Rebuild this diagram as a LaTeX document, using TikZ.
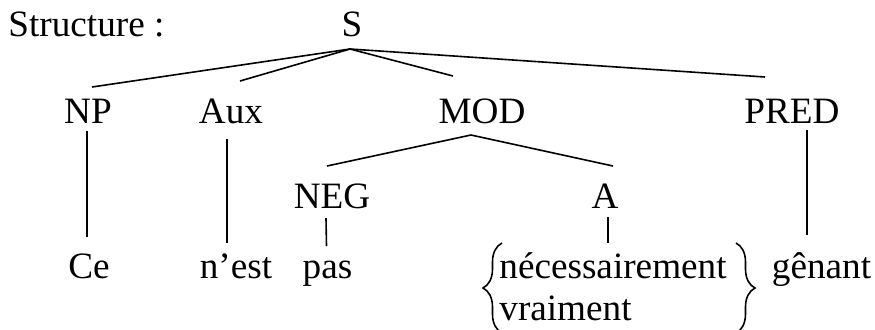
\documentclass[tikz,border=0pt]{standalone}
\usepackage{fontspec}
\setmainfont{Liberation Serif}
\usepackage{tikz}
\usetikzlibrary{decorations.pathreplacing}
\tikzset{
% Tree labels sit on their baseline; branches are plain thin lines
tree node/.style={inner sep=0,anchor=base},
branch/.style={line width=0.8pt},
curly/.style={line width=0.8pt,decorate,decoration={brace,amplitude=9.5pt}}
}

\begin{document}
\begin{tikzpicture}[x=0.5pt,y=-0.5pt,font=\fontsize{18.6}{21}\selectfont]
\useasboundingbox (0,0) rectangle (875,329);
\node[tree node,anchor=base west] (title) at (8,36) {Structure :};
\node[tree node] (S) at (352,36) {S};

\node[tree node] (NP) at (88,123) {NP};
\node[tree node] (Aux) at (231,123) {Aux};
\node[tree node] (MOD) at (482,123) {MOD};
\node[tree node] (PRED) at (792,123) {PRED};

\node[tree node] (NEG) at (332,208) {NEG};
\node[tree node] (A) at (605,208) {A};

\node[tree node] (Ce) at (89,278) {Ce};
\node[tree node] (nest) at (236,278) {n’est};
\node[tree node] (pas) at (327.5,278) {pas};
\node[tree node,anchor=base west] (nec) at (499,278) {nécessairement};
\node[tree node,anchor=base west] (vrai) at (499,320) {vraiment};
\node[tree node] (genant) at (821.5,278) {gênant};

\draw[branch] ([shift={(4,-36)}]NP.base) -- ([shift={(-2,13)}]S.base);
\draw[branch] ([shift={(9,-42)}]Aux.base) -- ([shift={(-2,13)}]S.base);
\draw[branch] ([shift={(-29,-47)}]MOD.base) -- ([shift={(-2,13)}]S.base);
\draw[branch] ([shift={(-27,-46)}]PRED.base) -- ([shift={(-2,13)}]S.base);

\draw[branch] ([shift={(-5,-42)}]NEG.base) -- ([shift={(-11,12)}]MOD.base);
\draw[branch] ([shift={(8,-42)}]A.base) -- ([shift={(-11,12)}]MOD.base);

\draw[branch] ([shift={(-1,8)}]NP.base) -- ([shift={(-2,-41)}]Ce.base);
\draw[branch] ([shift={(-4,16)}]Aux.base) -- ([shift={(-9,-35)}]nest.base);
\draw[branch] ([shift={(-6,10)}]NEG.base) -- ([shift={(-1,-32)}]pas.base);
\draw[branch] ([shift={(3,9)}]A.base) -- ([shift={(109,-35)}]nec.base west);
\draw[branch] ([shift={(15,7)}]PRED.base) -- ([shift={(-14.5,-43)}]genant.base);

% braces round the two adverbs
\draw[curly] ([shift={(3,55)}]nec.base west) -- ([shift={(3,-35)}]nec.base west);
\draw[curly] ([shift={(237,-35)}]nec.base west) -- ([shift={(237,55)}]nec.base west);
\end{tikzpicture}
\end{document}
